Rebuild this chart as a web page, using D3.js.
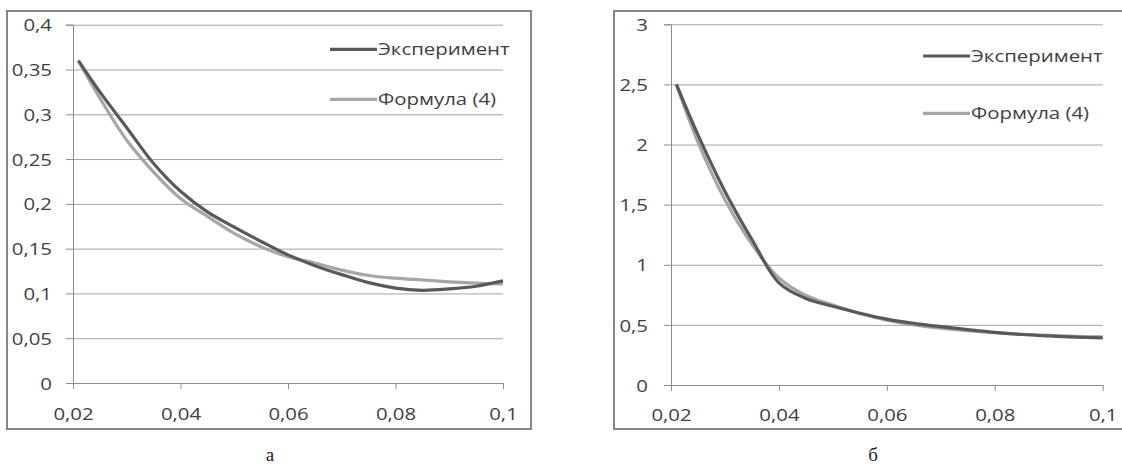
<!DOCTYPE html>
<html>
<head>
<meta charset="utf-8">
<script src="https://cdn.jsdelivr.net/npm/d3@7"></script>
<style>
  body { margin: 0; background: #fff; }
  svg { display: block; }
</style>
</head>
<body>
<svg id="chart" width="1122" height="471"></svg>
<script>
// x positions shared by both panels
const xValues = [0.021, 0.025, 0.03, 0.035, 0.04, 0.045, 0.05, 0.055, 0.06, 0.065, 0.07, 0.075, 0.08, 0.085, 0.09, 0.095, 0.1];

// panel "а"
const expA  = [0.36, 0.325, 0.285, 0.245, 0.214, 0.191, 0.174, 0.158, 0.143, 0.131, 0.121, 0.112, 0.106, 0.1035, 0.105, 0.108, 0.114];
const formA = [0.36, 0.318, 0.271, 0.2355, 0.206, 0.186, 0.167, 0.152, 0.141, 0.134, 0.126, 0.12, 0.117, 0.115, 0.113, 0.1115, 0.1105];

// panel "б"
const expB  = [2.5, 2.08, 1.61, 1.21, 0.85, 0.72, 0.655, 0.597, 0.548, 0.513, 0.485, 0.46, 0.437, 0.42, 0.408, 0.398, 0.392];
const formB = [2.5, 2.02, 1.54, 1.17, 0.89, 0.745, 0.665, 0.595, 0.54, 0.5, 0.472, 0.452, 0.435, 0.422, 0.412, 0.405, 0.4];

const xTicks = [0.02, 0.04, 0.06, 0.08, 0.1];
const yTicksA = [0, 0.05, 0.1, 0.15, 0.2, 0.25, 0.3, 0.35, 0.4];
const yTicksB = [0, 0.5, 1, 1.5, 2, 2.5, 3];

const seriesNames = ["Эксперимент", "Формула (4)"];
const captions = ["а", "б"];

const colors = { exp: "#595959", form: "#a6a6a6" };
const axisColor = "#8c8c8c";
const textColor = "#404040";
const labelFont = "'Open Sans', sans-serif";
const stretch = 1.2; // the scan is a bit wider than tall

const fmt = v => String(v).replace(".", ",");

const svg = d3.select("#chart");

function drawPanel(p) {
  const g = svg.append("g");

  // outer frame
  g.append("rect")
    .attr("x", p.frame[0]).attr("y", p.frame[1])
    .attr("width", p.frame[2]).attr("height", p.frame[3])
    .attr("fill", "none")
    .attr("stroke", "#858585")
    .attr("stroke-width", 2);

  const x = d3.scaleLinear().domain([0.02, 0.1]).range([p.left, p.right]);
  const y = d3.scaleLinear().domain(p.yDomain).range([p.bottom, p.top]);

  // gridlines
  g.append("g")
    .attr("transform", `translate(${p.left},0)`)
    .call(d3.axisLeft(y).tickValues(p.yTicks.slice(1)).tickSize(-(p.right - p.left)).tickFormat(""))
    .call(a => a.select(".domain").remove())
    .call(a => a.selectAll("line").attr("stroke", "#a3a3a3").attr("stroke-width", 1));

  // y axis
  const yAxis = g.append("g")
    .attr("transform", `translate(${p.left},0)`)
    .call(d3.axisLeft(y).tickValues(p.yTicks).tickSize(7).tickFormat(fmt));
  yAxis.select(".domain").attr("stroke", axisColor);
  yAxis.selectAll("line").attr("stroke", axisColor);
  yAxis.selectAll("text")
    .attr("x", 0).attr("dy", "0.36em")
    .attr("transform", `translate(${p.yLabelDx},0) scale(${stretch},1)`)
    .attr("fill", textColor)
    .style("font-family", labelFont)
    .style("font-size", "17px");

  // x axis
  const xAxis = g.append("g")
    .attr("transform", `translate(0,${p.bottom})`)
    .call(d3.axisBottom(x).tickValues(xTicks).tickSize(6).tickSizeOuter(0).tickFormat(fmt));
  xAxis.select(".domain").attr("stroke", axisColor);
  xAxis.selectAll("line").attr("stroke", axisColor);
  xAxis.selectAll("text")
    .attr("y", 0).attr("dy", null)
    .attr("transform", `translate(0,${p.xLabelDy}) scale(${stretch},1)`)
    .attr("fill", textColor)
    .style("font-family", labelFont)
    .style("font-size", "17px");

  const line = d3.line()
    .x((d, i) => x(xValues[i]))
    .y(d => y(d))
    .curve(d3.curveCatmullRom.alpha(0.5));

  g.append("path")
    .datum(p.form)
    .attr("fill", "none")
    .attr("stroke", colors.form)
    .attr("stroke-width", 3.2)
    .attr("d", line);

  g.append("path")
    .datum(p.exp)
    .attr("fill", "none")
    .attr("stroke", colors.exp)
    .attr("stroke-width", 3.2)
    .attr("d", line);

  // legend
  [colors.exp, colors.form].forEach((c, i) => {
    const ly = p.legendY[i];
    g.append("line")
      .attr("x1", p.legendX).attr("x2", p.legendX + 47)
      .attr("y1", ly).attr("y2", ly)
      .attr("stroke", c)
      .attr("stroke-width", 3.2);
    g.append("text")
      .attr("transform", `translate(${p.legendX + 48},${ly}) scale(${stretch},1)`)
      .attr("dy", "0.36em")
      .attr("fill", textColor)
      .style("font-family", labelFont)
      .style("font-size", "17px")
      .text(seriesNames[i]);
  });

  // caption below the frame
  g.append("text")
    .attr("x", p.captionX).attr("y", 461)
    .attr("text-anchor", "middle")
    .attr("fill", "#222")
    .style("font-family", "'Liberation Serif', serif")
    .style("font-size", "19px")
    .text(p.caption);
}

drawPanel({
  frame: [7, 11, 524, 418],
  left: 73, right: 503, top: 24.7, bottom: 383,
  yDomain: [0, 0.4], yTicks: yTicksA,
  yLabelDx: -21, xLabelDy: 37,
  exp: expA, form: formA,
  legendX: 330, legendY: [49.3, 99.3],
  captionX: 270, caption: captions[0]
});

drawPanel({
  frame: [614, 11, 520, 418],
  left: 671, right: 1102.7, top: 24.3, bottom: 385,
  yDomain: [0, 3], yTicks: yTicksB,
  yLabelDx: -23, xLabelDy: 35.5,
  exp: expB, form: formB,
  legendX: 923, legendY: [56, 113.3],
  captionX: 873, caption: captions[1]
});
</script>
</body>
</html>
